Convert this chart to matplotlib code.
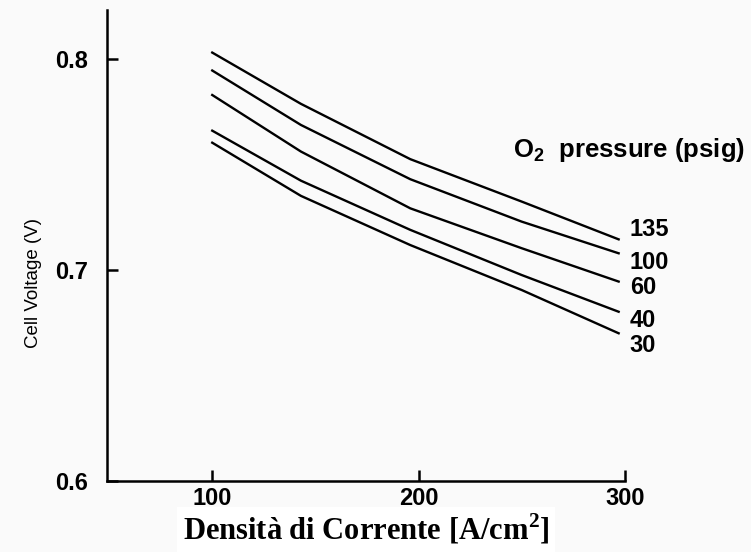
# セル電圧 vs 電流密度 (O2 圧力別) のグラフを再現する
import numpy as np
import matplotlib.pyplot as plt

plt.rcParams['mathtext.fontset'] = 'custom'
plt.rcParams['mathtext.sf'] = 'Liberation Sans:bold'
plt.rcParams['mathtext.bf'] = 'Liberation Serif:bold'
plt.rcParams['mathtext.rm'] = 'Liberation Serif:bold'

# データ
current = [100, 143, 196, 250, 297]  # 電流密度 [mA/cm2]
pressures = ["135", "100", "60", "40", "30"]  # O2 圧力 [psig]
voltage = {
    "135": [0.8030, 0.7787, 0.7525, 0.7324, 0.7145],
    "100": [0.7945, 0.7687, 0.7430, 0.7229, 0.7079],
    "60": [0.7829, 0.7561, 0.7292, 0.7103, 0.6945],
    "40": [0.7660, 0.7423, 0.7190, 0.6976, 0.6802],
    "30": [0.7603, 0.7351, 0.7118, 0.6905, 0.6700],
}
x_ticks = [100, 200, 300]
y_ticks = [0.6, 0.7, 0.8]
y_tick_labels = ["0.6", "0.7", "0.8"]

# ラベルの位置調整 (points)
label_dy = {"135": 7, "100": -6.5, "60": -4, "40": -6, "30": -8.5}

fig = plt.figure(figsize=(7.51, 5.52), dpi=100, facecolor="#fafafa")
ax = fig.add_axes([0.1425, 0.1286, 0.832 - 0.1425, 0.982 - 0.1286])
ax.set_facecolor("#fafafa")

for p in pressures:
    ax.plot(current, voltage[p], color="black", lw=1.7)
    ax.annotate(p, (current[-1], voltage[p][-1]), xytext=(8, label_dy[p]),
                textcoords="offset points", va="center", ha="left",
                fontsize=17, family="Liberation Sans", fontweight="bold",
                annotation_clip=False)

ax.text(245.6, 0.7569, r"O$_\mathsf{2}$  pressure (psig)", fontsize=18.5,
        family="Liberation Sans", fontweight="bold", va="center", ha="left")

# 軸の設定
ax.set_xlim(49, 300)
ax.set_ylim(0.6, 0.8232)
ax.spines["top"].set_visible(False)
ax.spines["right"].set_visible(False)
for s in ["left", "bottom"]:
    ax.spines[s].set_linewidth(1.8)
ax.set_xticks(x_ticks)
ax.set_yticks(y_ticks)
ax.set_yticklabels(y_tick_labels)
ax.tick_params(direction="in", length=8, width=1.8, pad=6)
for lab in ax.get_xticklabels() + ax.get_yticklabels():
    lab.set_fontfamily("Liberation Sans")
    lab.set_fontweight("bold")
    lab.set_fontsize(17)
ax.tick_params(axis="y", pad=14)
ax.tick_params(axis="x", pad=4)

ax.set_xlabel(r"Densità di Corrente [A/cm$^\mathbf{2}$]", fontsize=22,
              family="Liberation Serif", fontweight="bold", labelpad=2,
              bbox=dict(facecolor="white", edgecolor="none", pad=4))
fig.text(0.045, 1 - 283 / 552, "Cell Voltage (V)", rotation=90, fontsize=13.5,
         family="Liberation Sans", va="center", ha="center")

fig.savefig("out.png", dpi=100, facecolor=fig.get_facecolor())
